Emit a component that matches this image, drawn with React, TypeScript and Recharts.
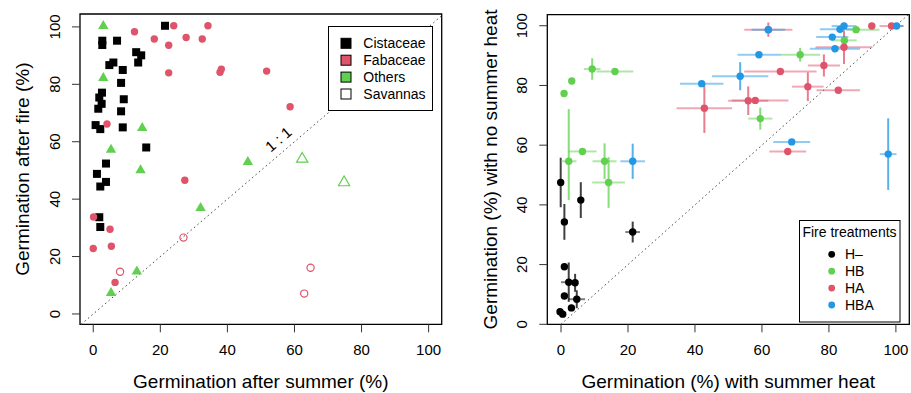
import React from "react";
import {
  ScatterChart,
  Scatter,
  XAxis,
  YAxis,
  ErrorBar,
  ReferenceArea,
  ReferenceLine,
  ReferenceDot,
} from "recharts";

type Pair = [number, number];
type Err = number | [number, number];
type ErrPt = [number, number, Err, Err];

const FONT = '"Liberation Sans", Arial, Helvetica, sans-serif';
const BLACK = "#000000";
const RED = "#DF536B";
const GREEN = "#61D04F";
const BLUE = "#2297E6";

const axisTicks = [0, 20, 40, 60, 80, 100];

// left panel: germination after summer (x) vs after fire (y)
const cistaceae: Pair[] = [
  [21.4, 100.4], [2.7, 95.2], [2.7, 93.7], [7.1, 95.2], [12.8, 91.2], [14.3, 90.1],
  [13.4, 87.6], [6, 87.6], [4.8, 86.7], [8.8, 85], [8.3, 80.5], [2.6, 77.1],
  [1.8, 75.4], [9.1, 74.8], [2.5, 73.2], [1.5, 71.5], [8.3, 70.6], [0.7, 65.8],
  [2.1, 64.4], [8.8, 65], [15.8, 58], [3.8, 52.4], [1.1, 48.8], [3.8, 46], [2.1, 44.4],
  [1.8, 33.7], [2.1, 30.3],
];
const fabaceae: Pair[] = [
  [24, 100.4], [12.3, 98.3], [18.2, 95.8], [27.7, 96.3], [22.5, 93.6], [22.5, 84],
  [4.1, 66.2], [34.2, 100.4], [32.5, 95.8], [38.2, 85.3], [37.8, 84.2], [51.7, 84.6],
  [58.7, 72.2], [27.3, 46.6], [0.1, 33.8], [5, 29.5], [5.4, 23.6], [0, 22.8], [6.5, 11],
];
const others: Pair[] = [
  [3, 100.3], [3, 82.2], [14.6, 64.8], [5.3, 57.2], [14.1, 50.1], [46.1, 52.9],
  [32, 36.9], [13, 14.8], [5.3, 7.3],
];
const savannaOthers: Pair[] = [[62.3, 54], [74.8, 45.8]];
const savannaFabaceae: Pair[] = [[26.9, 26.6], [8, 14.7], [64.8, 16.1], [62.9, 7.1]];

// right panel: [x, y, x error, y error]
const hMinus: ErrPt[] = [
  [-0.1, 47.5, 0.5, 8.3], [5.9, 41.6, 0.8, 6], [1, 34.3, 0.5, 6], [21.4, 30.9, 2.2, 3.5],
  [1, 19.3, 0, 0], [2.3, 14.1, 2.3, 6.6], [4.2, 13.9, 0.5, 3], [1, 9.5, 0, 0],
  [4.7, 8.4, 2.5, 3], [3.1, 5.5, 0.5, 1], [-0.3, 4.2, 0.5, 1], [0.5, 3.4, 0.5, 1],
];
const hb: ErrPt[] = [
  [0.9, 77.3, 0, 0], [3.2, 81.5, 0, 0], [9.3, 85.5, 2.5, 3.6], [16.1, 84.7, 5.5, 0.5],
  [6.4, 57.9, 4.2, 0.5], [2.3, 54.6, 2.3, [13, 17.5]], [13, 54.6, 3.6, 6],
  [14.2, 47.5, 4.9, 8.5], [71.4, 90.3, 6, 2.3], [59.5, 68.9, 3.6, 3.7],
  [84.6, 95.1, 3.7, 1.6], [88.1, 98.7, [2.9, 7], 0.5],
];
const ha: ErrPt[] = [
  [92.8, 99.9, 1, 0.5], [98.7, 99.9, 3.6, 0.5], [84.5, 92.8, 8.5, 5.6], [78.5, 86.7, 4.8, 3.7],
  [65.5, 84.7, 10.8, 0.5], [73.7, 79.6, 4.7, 4.8], [82.8, 78.4, 6.5, 0.5], [55.9, 74.9, 6, 4.8],
  [58, 75, [7, 9.9], 0.5], [42.8, 72.4, 8.3, 8.3], [67.7, 57.9, 5.5, 0.5], [61.9, 98.7, 7.2, 2.4],
];
const hba: ErrPt[] = [
  [61.9, 98.7, 5, 0.5], [84.5, 99.9, 3.7, 0.5], [83.3, 98.8, 6, 0.5], [81, 96.2, 4.8, 0.5],
  [81.8, 92.3, 7.5, 0.5], [59.1, 90.3, 6.4, 0.5], [53.5, 83.1, 8.4, 4.7], [42, 80.6, 6.5, 0.5],
  [68.9, 61.1, 5.5, 0.5], [97.7, 57, 2.5, 12], [100.2, 99.9, 2, 0.5], [21.4, 54.6, 3.7, 5.9],
];

const leftLegend = ["Cistaceae", "Fabaceae", "Others", "Savannas"];
const leftLegendFill = [BLACK, RED, GREEN, "#ffffff"];
const rightLegend = ["H–", "HB", "HA", "HBA"];
const rightLegendFill = [BLACK, GREEN, RED, BLUE];

const toPts = (arr: Pair[]) => arr.map(([x, y]) => ({ x, y }));
const toErrPts = (arr: ErrPt[]) => arr.map(([x, y, ex, ey]) => ({ x, y, ex, ey }));

const rgba = (hex: string, a: number) => {
  const n = parseInt(hex.slice(1), 16);
  return `rgba(${(n >> 16) & 255},${(n >> 8) & 255},${n & 255},${a})`;
};

const squareShape = (color: string) => (p: any) => (
  <rect x={p.cx - 4} y={p.cy - 4} width={8} height={8} fill={color} />
);
const circleShape = (color: string, open: boolean) => (p: any) => (
  <circle
    cx={p.cx}
    cy={p.cy}
    r={open ? 3.6 : 3.7}
    fill={open ? "none" : color}
    stroke={open ? color : "none"}
    strokeWidth={1.2}
  />
);
const triangleShape = (color: string, open: boolean) => (p: any) => {
  const r = open ? 6.5 : 6;
  const h = r * 0.866;
  const pts = `${p.cx},${p.cy - r} ${p.cx + h},${p.cy + r / 2} ${p.cx - h},${p.cy + r / 2}`;
  return (
    <polygon
      points={pts}
      fill={open ? "none" : color}
      stroke={open ? color : "none"}
      strokeWidth={1.2}
    />
  );
};

const YTick = (p: any) => (
  <text
    x={p.x}
    y={p.y}
    transform={`rotate(-90 ${p.x} ${p.y})`}
    textAnchor="middle"
    dy="0.36em"
    fontSize={15}
    fill="#000"
  >
    {p.payload.value}
  </text>
);

const oneToOne = (p: any) => (
  <text
    x={p.cx}
    y={p.cy}
    transform={`rotate(-40.5 ${p.cx} ${p.cy})`}
    textAnchor="middle"
    dy="0.36em"
    fontSize={15}
    fill="#000"
  >
    1 : 1
  </text>
);

const tickLine = { stroke: "#333" };
const xTick = { fontSize: 15, fill: "#000" };

function LeftPanel() {
  const xd: [number, number] = [-3.95, 103.9];
  const yd: [number, number] = [-3.6, 104.5];
  return (
    <ScatterChart width={455} height={393} margin={{ top: 14, right: 13.3, bottom: 0.7, left: 5 }}>
      <XAxis
        type="number"
        dataKey="x"
        domain={xd}
        allowDataOverflow
        ticks={axisTicks}
        interval={0}
        axisLine={false}
        tickSize={8}
        tickMargin={12}
        tickLine={tickLine}
        tick={xTick}
        height={68}
        label={{ value: "Germination after summer (%)", position: "insideBottom", offset: 4.5, fontSize: 19, fill: "#000" }}
      />
      <YAxis
        type="number"
        dataKey="y"
        domain={yd}
        allowDataOverflow
        ticks={axisTicks}
        interval={0}
        axisLine={false}
        width={75}
        tickSize={8}
        tickMargin={17.5}
        tickLine={tickLine}
        tick={YTick}
        label={{
          value: "Germination after fire (%)",
          angle: -90,
          position: "insideLeft",
          offset: 17,
          fontSize: 19,
          fill: "#000",
          style: { textAnchor: "middle" },
        }}
      />
      <ReferenceLine
        segment={[{ x: -3.6, y: -3.6 }, { x: 103.9, y: 103.9 }]}
        stroke="#444"
        strokeDasharray="1.5 3"
        ifOverflow="visible"
      />
      <ReferenceDot x={55.2} y={60.9} r={0} shape={oneToOne} />
      <Scatter data={toPts(cistaceae)} shape={squareShape(BLACK)} isAnimationActive={false} />
      <Scatter data={toPts(fabaceae)} shape={circleShape(RED, false)} isAnimationActive={false} />
      <Scatter data={toPts(others)} shape={triangleShape(GREEN, false)} isAnimationActive={false} />
      <Scatter data={toPts(savannaOthers)} shape={triangleShape(GREEN, true)} isAnimationActive={false} />
      <Scatter data={toPts(savannaFabaceae)} shape={circleShape(RED, true)} isAnimationActive={false} />
      <ReferenceArea x1={xd[0]} x2={xd[1]} y1={yd[0]} y2={yd[1]} fill="none" stroke="#000" strokeWidth={1.3} ifOverflow="visible" />
    </ScatterChart>
  );
}

function RightPanel() {
  const xd: [number, number] = [-4.1, 104];
  const yd: [number, number] = [0, 103.7];
  const groups = [
    { data: hMinus, color: BLACK },
    { data: hb, color: GREEN },
    { data: ha, color: RED },
    { data: hba, color: BLUE },
  ];
  return (
    <ScatterChart width={456} height={393} margin={{ top: 14.7, right: 1.7, bottom: 0.7, left: 20 }}>
      <XAxis
        type="number"
        dataKey="x"
        domain={xd}
        allowDataOverflow
        ticks={axisTicks}
        interval={0}
        axisLine={false}
        tickSize={8}
        tickMargin={12}
        tickLine={tickLine}
        tick={xTick}
        height={68}
        label={{ value: "Germination (%) with summer heat", position: "insideBottom", offset: 4.5, fontSize: 19, fill: "#000" }}
      />
      <YAxis
        type="number"
        dataKey="y"
        domain={yd}
        allowDataOverflow
        ticks={axisTicks}
        interval={0}
        axisLine={false}
        width={72.3}
        tickSize={8}
        tickMargin={17.8}
        tickLine={tickLine}
        tick={YTick}
        label={{
          value: "Germination (%) with no summer heat",
          angle: -90,
          position: "insideLeft",
          offset: 15,
          fontSize: 19,
          fill: "#000",
          style: { textAnchor: "middle" },
        }}
      />
      <ReferenceLine
        segment={[{ x: 0, y: 0 }, { x: 103.7, y: 103.7 }]}
        stroke="#444"
        strokeDasharray="1.5 3"
        ifOverflow="visible"
      />
      {groups.map((g, i) => (
        <Scatter key={i} data={toErrPts(g.data)} shape={circleShape(g.color, false)} isAnimationActive={false}>
          <ErrorBar dataKey="ex" direction="x" width={0} stroke={rgba(g.color, 0.5)} strokeWidth={2} />
          <ErrorBar dataKey="ey" direction="y" width={0} stroke={rgba(g.color, 0.75)} strokeWidth={2} />
        </Scatter>
      ))}
      <ReferenceArea x1={xd[0]} x2={xd[1]} y1={yd[0]} y2={yd[1]} fill="none" stroke="#000" strokeWidth={1.3} ifOverflow="visible" />
    </ScatterChart>
  );
}

function Legends() {
  return (
    <svg width={911} height={393} style={{ position: "absolute", left: 0, top: 0, pointerEvents: "none" }}>
      <rect x={328.5} y={26.5} width={104} height={84} fill="#fff" stroke="#000" strokeWidth={1} />
      {leftLegend.map((name, i) => {
        const cy = 43.3 + i * 16.9;
        return (
          <g key={name}>
            <rect x={341} y={cy - 5} width={10} height={10} fill={leftLegendFill[i]} stroke="#000" strokeWidth={1} />
            <text x={363.3} y={cy} dy="0.36em" fontSize={14} fill="#000">
              {name}
            </text>
          </g>
        );
      })}
      <rect x={799.5} y={220.5} width={100.5} height={101.5} fill="#fff" stroke="#000" strokeWidth={1} />
      <text x={849.5} y={231.7} dy="0.36em" textAnchor="middle" fontSize={14} fill="#000">
        Fire treatments
      </text>
      {rightLegend.map((name, i) => {
        const cy = 254.3 + i * 16.9;
        return (
          <g key={name}>
            <circle cx={831.7} cy={cy} r={3.4} fill={rightLegendFill[i]} />
            <text x={845} y={cy} dy="0.36em" fontSize={14} fill="#000">
              {name}
            </text>
          </g>
        );
      })}
    </svg>
  );
}

export default function App() {
  return (
    <div
      style={{
        position: "absolute",
        left: 0,
        top: 0,
        width: 911,
        height: 393,
        background: "#fff",
        fontFamily: FONT,
        display: "flex",
      }}
    >
      <LeftPanel />
      <RightPanel />
      <Legends />
    </div>
  );
}
